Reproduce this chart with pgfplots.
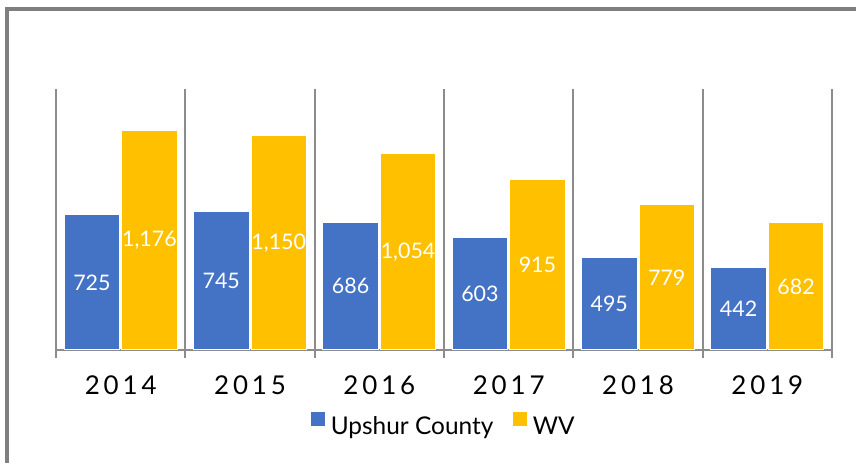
\documentclass[border=0pt]{standalone}
\usepackage{fontspec}
\setmainfont{Lato}
\usepackage{pgfplots}
\pgfplotsset{compat=1.18}
\definecolor{cblue}{HTML}{4472C4}
\definecolor{cyel}{HTML}{FFC000}
\definecolor{fgray}{HTML}{7F7F7F}
\definecolor{ggray}{HTML}{8C8C8C}
\newfontfamily\yearfont[LetterSpace=15]{Lato}
\begin{document}
\begin{tikzpicture}
\useasboundingbox (0,0) rectangle (856bp,463bp);
\draw[fgray, line width=3.5bp] (7bp,0) -- (7bp,454.2bp) -- (856bp,454.2bp);
\begin{axis}[
  at={(56bp,113bp)}, anchor=south west,
  scale only axis, width=776bp, height=261bp,
  ymin=0, ymax=1400, xmin=-0.5, xmax=5.5,
  ybar=2bp, bar width=55.5bp,
  axis y line=none, axis x line*=bottom,
  x axis line style={ggray, line width=2bp, -},
  xtick={0,...,5}, xticklabels={2014,2015,2016,2017,2018,2019},
  major tick length=0pt,
  minor xtick={-0.5,0.5,...,5.5},
  minor tick length=8bp, tick align=outside,
  xminorgrids=true,
  minor grid style={ggray, line width=2bp},
  minor tick style={ggray, line width=2bp},
  xticklabel style={font=\yearfont\fontsize{26}{30}\selectfont, anchor=base, yshift=-44bp, text=black},
  nodes near coords,
  visualization depends on={rawy \as \rawy},
  every node near coord/.append style={anchor=center, shift={(axis direction cs:0,-\rawy/2)}, text=white, font=\fontsize{21.5}{25}\selectfont},
  /pgf/number format/1000 sep={,},
  /pgf/number format/assume math mode=true,
  legend style={at={(0.5,-0.287)}, anchor=center, draw=none, fill=none, legend columns=-1, font=\fontsize{24.5}{28}\selectfont, /tikz/every even column/.append style={column sep=18bp}},
  legend image code/.code={\fill[#1,draw=none] (0bp,1bp) rectangle (14bp,15bp); \path (17bp,8bp);},
]
\addplot[fill=cblue, draw=white, line width=1bp] coordinates {(0,725) (1,745) (2,686) (3,603) (4,495) (5,442)};
\addplot[fill=cyel, draw=white, line width=1bp] coordinates {(0,1176) (1,1150) (2,1054) (3,915) (4,779) (5,682)};
\legend{Upshur County, WV}
\end{axis}
\end{tikzpicture}
\end{document}
